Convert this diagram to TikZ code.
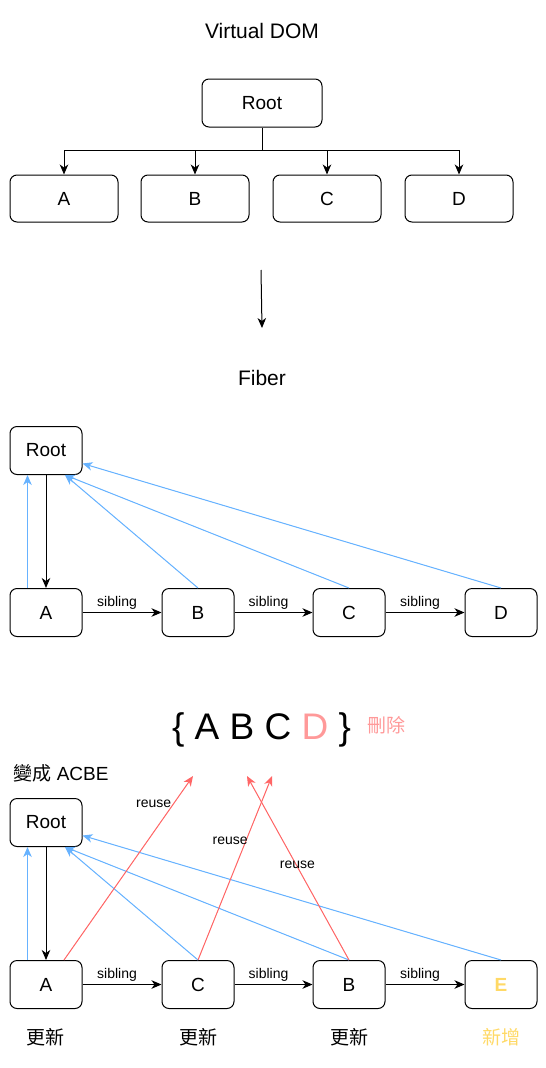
\documentclass[tikz,border=0pt]{standalone}
\usepackage{fontspec}
\setmainfont{Liberation Sans}
\newfontfamily\cjk{Noto Sans CJK TC}
\usepackage{xcolor}
\usetikzlibrary{arrows.meta,positioning}
\definecolor{parentblue}{HTML}{66B2FF}
\definecolor{reusered}{HTML}{FF6666}
\definecolor{delpink}{HTML}{FF9999}
\definecolor{newyellow}{HTML}{FFD966}
\tikzset{
  box/.style={draw,line width=1pt,rounded corners=7pt,inner sep=0pt,
    minimum width=72pt,minimum height=48pt,font=\fontsize{19}{22}\selectfont},
  wide/.style={box,minimum width=108pt,minimum height=47pt},
  arr/.style={line width=1pt,-{Stealth[length=10pt,width=8.5pt,inset=3pt]}},
  parent/.style={arr,draw=parentblue,fill=parentblue},
  reuse/.style={arr,draw=reusered,fill=reusered},
  lbl/.style={font=\fontsize{14}{16}\selectfont},
  title/.style={font=\fontsize{21}{25}\selectfont},
  note/.style={font=\cjk\fontsize{19}{22}\selectfont}
}

\begin{document}
\begin{tikzpicture}[x=1pt,y=-1pt]
  \useasboundingbox (0,0) rectangle (546,1068);
  % virtual dom
  \node[title] (vtitle) at (262,31) {Virtual DOM};
  \node[box,minimum width=120pt] (vroot) at (262,103) {Root};
  \foreach \n/\x in {A/64,B/195,C/327,D/459}
    \node[wide] (v\n) at (\x,198.5) {\n};
  \coordinate (bus) at (262,150);
  \draw[line width=1pt] (vroot) -- (bus);
  \foreach \n in {A,B,C,D}
    \draw[arr] (bus) -| (v\n);
  % down arrow
  \coordinate (dtop) at (261,270);
  \coordinate (dbot) at (262,328);
  \draw[arr] (dtop) -- (dbot);

  % fiber
  \node[title] (ftitle) at (262,378) {Fiber};
  \node[box] (froot) at (46,450.5) {Root};
  \foreach \n/\x in {A/46,B/198,C/349,D/501}
    \node[box] (f\n) at (\x,612.5) {\n};
  \draw[arr] (froot) -- (fA);
  \draw[parent] ([xshift=-18.5pt]fA.north) -- ([xshift=-18.5pt]froot.south);
  \foreach \n in {B,C}
    \draw[parent] (f\n.north) -- ([xshift=19pt]froot.south);
  \draw[parent] (fD.north) -- ([yshift=-13pt]froot.east);
  \foreach \a/\b in {A/B,B/C,C/D}
    \draw[arr] (f\a) -- node[lbl,above=-1pt,xshift=-5pt] {sibling} (f\b);

  % old set
  \node[font=\fontsize{37}{44}\selectfont,anchor=base] (oldset) at (261.5,739)
    {\{ A B C \textcolor{delpink}{D} \}};
  \node[note,text=delpink] (deltag) at (386.5,725) {刪除};
  \node[anchor=west,font=\fontsize{19}{22}\selectfont] (change) at (10,773)
    {{\cjk 變成} ACBE};

  % new fiber
  \node[box] (nroot) at (46,822.5) {Root};
  \foreach \n/\x in {A/46,C/198,B/349}
    \node[box] (n\n) at (\x,984.5) {\n};
  \node[box,text=newyellow,font=\bfseries\fontsize{19}{22}\selectfont] (nE) at (501,984.5) {E};
  \draw[arr] (nroot) -- (nA);
  \draw[parent] ([xshift=-18.5pt]nA.north) -- ([xshift=-18.5pt]nroot.south);
  \foreach \n in {C,B}
    \draw[parent] (n\n.north) -- ([xshift=19pt]nroot.south);
  \draw[parent] (nE.north) -- ([yshift=-13pt]nroot.east);
  \foreach \a/\b in {A/C,C/B,B/E}
    \draw[arr] (n\a) -- node[lbl,above=-1pt,xshift=-5pt] {sibling} (n\b);

  % reuse
  \coordinate (reuseA) at (193,776);
  \coordinate (reuseB) at (247,776);
  \coordinate (reuseC) at (272,776);
  \draw[reuse] ([xshift=18pt]nA.north) -- node[lbl,pos=.85,xshift=-20pt] {reuse} (reuseA);
  \draw[reuse] (nC.north) -- node[lbl,pos=.65,xshift=-16pt] {reuse} (reuseC);
  \draw[reuse] (nB.north) -- node[lbl,pos=.52,xshift=1.5pt] {reuse} (reuseB);

  % status
  \foreach \n in {A,C,B}
    \node[note,below=16pt of n\n] (st\n) {更新};
  \node[note,text=newyellow,below=16pt of nE] (stE) {新增};
\end{tikzpicture}
\end{document}
